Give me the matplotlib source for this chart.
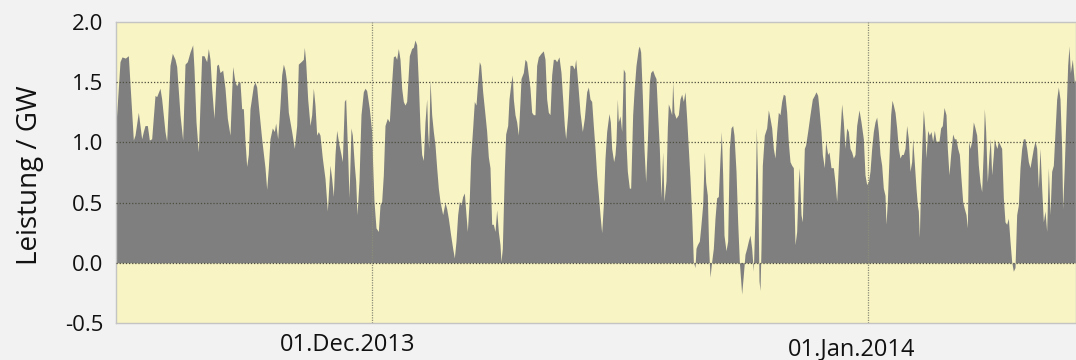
import matplotlib
matplotlib.use("Agg")
import matplotlib.pyplot as plt
import matplotlib.dates as mdates
from matplotlib.transforms import ScaledTranslation
import numpy as np
import pandas as pd

plt.rcParams['font.family'] = ['Open Sans', 'DejaVu Sans']

# Net power, hours counted from 15 Nov 2013 00:00
start = pd.Timestamp("2013-11-15 00:00")
hours = [
    0, 6, 9, 14, 18.5, 26, 28.5, 33.5, 36, 38.5, 41, 43.5, 47, 50, 53.5, 58.5, 61, 66, 68.5, 73.5,
    76, 81, 84.5, 88.5, 91, 96, 100, 103.5, 107, 111, 115, 117, 120, 123.5, 128.5, 132, 136, 138.5,
    141, 143.5, 147, 151, 153.5, 156, 160, 163.5, 167, 171, 175, 178.5, 181,
    183.5, 186, 188.5, 191, 193.5, 196, 198.5, 201, 206, 208.5, 211, 213.5, 218.5, 223.5, 226, 228.5,
    231, 234.5, 237.5, 239.5, 242.5, 246, 248.5, 251, 253.5, 256, 258.5, 263.5, 267.5, 271, 273.5,
    277.5, 281, 282.5, 284.5, 287.5, 291, 293.5, 296, 298.5, 301, 303.5, 306, 309.5, 313.5, 317, 321,
    323.5, 326, 328.5, 331, 334.5, 337.5, 339.5, 342.5, 344.5, 347.5, 349.5, 352.5, 354.5, 357.5,
    359.5, 361.5, 364.5, 367.5, 371,
    373.5, 376, 380, 383.5, 385, 387, 390, 393.5, 396, 398.5, 401, 403.5, 407, 410, 413.5, 416, 418.5,
    421, 423.5, 426, 428.5, 431, 433.5, 436, 440, 443.5, 446, 448.5, 451, 453.5, 456, 458.5, 461,
    463.5, 466, 467.5, 469, 471, 473.5, 476, 478.5, 481, 483.5, 486, 490, 493.5, 496, 498.5, 502, 505,
    507.5, 510, 512.5, 515, 517.5, 520, 522.5, 525, 527, 530, 532, 535, 537.5, 540, 542.5, 545, 547,
    550, 553.5, 556,
    558.5, 561, 563.5, 566, 568.5, 571, 573.5, 576, 577.5, 579.5, 582.5, 584.5, 587.5, 589.5, 592.5,
    594.5, 596, 598.5, 601, 603.5, 606, 607.5, 611, 613.5, 616, 618.5, 621, 623.5, 626, 628.5, 631,
    633.5, 637.5, 641, 643.5, 646, 648.5, 651, 653.5, 656, 658.5, 661, 664.5, 667.5, 670, 672.5,
    674.5, 677.5, 681, 684.5, 687.5, 689.5, 692.5, 696, 699.5, 702.5, 706, 708.5, 711, 713.5, 716,
    718.5, 721, 723.5, 726, 728.5, 731, 733.5, 736, 739.5, 741.5, 743.5, 746.5, 748.5,
    750, 752, 753.5, 756, 758.5, 761, 763.5, 765, 767, 770, 772, 775, 777, 780, 783.5, 785, 787,
    789.5, 792, 794.5, 797, 800, 802, 805, 807.5, 810, 812.5, 815, 817.5, 820, 822, 825, 827, 828.5,
    831, 833.5, 835, 837, 840, 843.5, 846, 848.5, 851, 853.5, 856, 858.5, 861, 863.5, 866, 868.5,
    870, 872, 875, 877, 880, 882.5, 884.5, 887, 889, 891, 893.5, 896, 898.5, 901, 903.5, 906, 908,
    910, 912, 915, 917.5, 920, 922.5, 925, 927, 930, 932.5, 935,
    938.5, 941, 943.5, 946, 948.5, 951, 953.5, 956, 958.5, 960.5, 962.5, 964.5, 966, 967.5, 969.5,
    972.5, 976, 978.5, 981, 983.5, 986, 988.5, 991, 993.5, 996, 998.5, 1001, 1003.5, 1006, 1008.5,
    1011, 1013.5, 1016, 1018.5, 1021, 1023.5, 1025, 1027.5, 1029.5, 1032.5, 1034.5, 1037.5, 1041,
    1044.5, 1047.5, 1050, 1052.5, 1054.5, 1057.5, 1059.5, 1062.5, 1064.5, 1067.5, 1069.5, 1072.5,
    1076, 1078.5, 1081, 1083.5, 1086, 1088.5, 1091, 1093.5, 1096, 1098.5, 1101, 1103.5, 1106,
    1108.5, 1111, 1114.5, 1117.5, 1121,
    1123.5, 1126, 1128.5, 1131, 1133.5, 1136, 1138.5, 1141, 1143.5, 1146, 1148.5, 1151, 1153.5,
    1155, 1157, 1160, 1162, 1164, 1166, 1168.5, 1171, 1173.5, 1176, 1178.5, 1181, 1183.5, 1186,
    1188.5, 1191, 1193.5, 1195, 1197, 1200, 1202, 1203.5, 1205, 1207, 1209, 1211, 1213.5, 1215,
    1217.5, 1220, 1222.5, 1225, 1227.5, 1230, 1232, 1234.5, 1237, 1239.5, 1242, 1245, 1247, 1249.5,
    1252, 1255, 1257.5, 1260, 1262.5, 1265, 1267.5, 1270, 1272.5, 1275, 1277, 1279,
    1281, 1283.5, 1286, 1288.5, 1291, 1293.5, 1296, 1298.5, 1301, 1302.5, 1304.5, 1307, 1309.5,
    1311.5, 1313.5, 1316, 1317.5, 1319.5, 1321.5, 1323.5, 1326, 1328.5, 1331, 1333.5, 1336, 1338.5,
    1341, 1343.5, 1346, 1348.5, 1351, 1353.5, 1356, 1358.5, 1361, 1363.5, 1366, 1368.5, 1371,
    1373.5, 1376, 1378.5, 1381, 1383.5, 1386, 1388.5, 1391, 1393.5, 1396, 1398.5, 1401, 1403.5,
    1406, 1408.5, 1411, 1413.5, 1416, 1418.5, 1420, 1422.5, 1425, 1427.5, 1429.5, 1431.5, 1434.5,
    1437.5, 1440,
]
power_gw = [
    1.15, 1.67, 1.71, 1.70, 1.72, 1.02, 1.06, 1.25, 1.14, 1.03, 1.09, 1.14, 1.14, 1.02, 1.03, 1.39, 1.38, 1.45, 1.36, 1.09,
    1.01, 1.64, 1.74, 1.69, 1.63, 1.23, 1.02, 1.65, 1.67, 1.75, 1.81, 1.61, 1.17, 0.92, 1.72, 1.72, 1.67, 1.78,
    1.69, 1.45, 1.20, 1.64, 1.65, 1.58, 1.60, 1.45, 1.20, 1.06, 1.63, 1.50, 1.47,
    1.50, 1.50, 1.28, 1.28, 1.01, 0.80, 0.90, 1.28, 1.47, 1.50, 1.46, 1.31, 1.03, 0.79, 0.61, 0.79,
    1.03, 1.12, 1.09, 1.16, 1.03, 1.31, 1.56, 1.65, 1.60, 1.50, 1.25, 1.09, 0.95, 1.14, 1.65,
    1.67, 1.69, 1.79, 1.67, 1.36, 1.14, 1.23, 1.45, 1.31, 1.06, 1.09, 1.06, 0.87, 0.70, 0.43, 0.81,
    0.70, 0.55, 0.90, 1.10, 0.98, 0.90, 0.84, 1.34, 1.36, 0.90, 0.54, 1.12, 1.06, 0.81,
    0.68, 0.40, 0.68, 1.23, 1.42,
    1.45, 1.43, 1.28, 1.09, 0.81, 0.51, 0.29, 0.26, 0.48, 0.51, 0.73, 1.14, 1.20, 1.17, 1.50, 1.71, 1.72,
    1.69, 1.78, 1.69, 1.45, 1.34, 1.31, 1.34, 1.72, 1.78, 1.79, 1.85, 1.81, 1.50, 1.12, 0.90, 0.85,
    1.17, 1.36, 1.09, 0.95, 1.52, 1.23, 1.09, 0.98, 0.79, 0.62, 0.51, 0.40, 0.50, 0.45, 0.37, 0.23, 0.12,
    0.04, 0.18, 0.40, 0.51, 0.48, 0.55, 0.58, 0.40, 0.26, 0.54, 0.87, 1.12, 1.34, 1.31, 1.50, 1.67, 1.64,
    1.42, 1.23, 1.09,
    0.88, 0.79, 0.32, 0.32, 0.26, 0.44, 0.26, 0.15, 0.01, 0.12, 0.76, 1.07, 1.14, 1.36, 1.50,
    1.56, 1.36, 1.23, 1.17, 1.06, 1.34, 1.53, 1.58, 1.69, 1.67, 1.56, 1.45, 1.25, 1.23, 1.23, 1.64,
    1.71, 1.74, 1.76, 1.69, 1.36, 1.25, 1.23, 1.56, 1.69, 1.69, 1.67, 1.71, 1.58, 1.36, 1.14,
    1.03, 1.23, 1.64, 1.64, 1.61, 1.69, 1.50, 1.25, 1.09, 1.20, 1.42, 1.46, 1.36, 1.34, 1.14,
    0.95, 0.73, 0.57, 0.40, 0.25, 0.48, 0.87, 1.09, 1.24, 1.17, 0.95, 0.84, 0.90,
    1.01, 1.36, 1.17, 1.22, 1.09, 1.61, 1.58, 1.00, 0.76, 0.62, 0.62, 1.23, 1.42, 1.64, 1.78, 1.80, 1.75,
    1.39, 0.95, 0.67, 1.00, 1.50, 1.58, 1.60, 1.56, 1.53, 1.23, 0.95, 0.54, 0.92, 0.51, 0.68, 1.12, 1.32,
    1.28, 1.23, 1.50, 1.25, 1.20, 1.23, 1.36, 1.40, 1.34, 1.42, 1.20, 0.95, 0.70, 0.40, 0.01, -0.04,
    0.12, 0.15, 0.18, 0.29, 0.48, 0.92, 0.67, 0.56, 0.12, -0.12, 0.01, 0.12, 0.37, 0.54, 0.55, 0.87, 1.09,
    0.73, 0.23, 0.10, 0.18, 0.95, 1.12, 1.14, 1.06, 0.76, 0.34, 0.01,
    -0.26, -0.10, 0.07, 0.12, 0.18, 0.23, 0.12, -0.07, 0.40, 1.12, 0.67, -0.15, -0.23, 0.12, 0.81,
    1.06, 1.12, 1.27, 1.20, 1.12, 0.95, 0.87, 1.09, 1.25, 1.23, 1.34, 1.40, 1.39, 1.25, 1.00,
    0.84, 0.81, 0.79, 0.15, 0.26, 0.67, 0.79, 0.40, 0.34, 0.95, 0.98, 1.09, 1.23,
    1.36, 1.39, 1.42, 1.39, 1.28, 1.09, 0.90, 0.79, 1.01, 0.90, 0.92, 0.79,
    0.79, 0.67, 0.51, 0.81, 1.09, 1.32, 1.17, 0.95, 1.12, 1.09, 0.95, 0.92, 0.87,
    0.90, 1.14, 1.27, 1.17, 1.03,
    0.73, 0.65, 0.67, 0.76, 0.95, 1.09, 1.17, 1.21, 1.09, 0.90, 0.81, 0.62, 0.56,
    0.32, 0.51, 0.95, 1.23, 1.35, 1.31, 1.25, 1.12, 0.95, 0.87, 0.90, 0.90, 0.95, 1.14,
    1.03, 0.76, 0.84, 1.03, 0.87, 0.62, 0.48, 0.43, 0.21, 0.68, 1.01, 1.27, 1.09, 0.87,
    1.10, 1.06, 1.09, 1.01, 1.10, 1.01, 1.01, 1.01, 1.12, 1.14, 1.29, 1.23, 0.95, 0.73,
    0.90, 1.07, 1.03, 1.03, 0.95, 0.90, 0.70, 0.51, 0.45, 0.40, 0.29, 1.01,
    0.95, 1.01, 1.17, 1.12, 1.06, 0.81, 0.67, 0.59, 0.95, 1.28, 1.09, 0.67, 0.90,
    1.03, 0.73, 0.90, 1.03, 0.98, 0.95, 1.01, 0.98, 0.95, 0.54, 0.34, 0.32, 0.37,
    0.18, 0.01, -0.07, -0.04, 0.40, 0.48, 0.79, 0.95, 1.03, 1.03, 0.95, 0.84, 0.79,
    0.87, 0.95, 1.01, 0.95, 0.62, 0.95, 0.62, 0.34, 0.43, 0.26, 0.79, 0.40, 0.76,
    0.81, 1.09, 1.36, 1.46, 1.36, 0.95, 0.45, 0.81, 1.23, 1.64, 1.80, 1.58, 1.69,
    1.50, 1.53,
]

yticks = [-0.5, 0.0, 0.5, 1.0, 1.5, 2.0]
xtick_dates = ["2013-12-01", "2014-01-01"]
xtick_labels = ["01.Dec.2013", "01.Jan.2014"]

times = start + pd.to_timedelta(np.asarray(hours), unit="h")
values = np.asarray(power_gw)

fig = plt.figure(figsize=(10.76, 3.6), dpi=100, facecolor="#f2f2f2")
ax = fig.add_axes([116 / 1076, 37 / 360, 960 / 1076, 301 / 360])
ax.set_facecolor("#f8f4c3")

ax.fill_between(times, values, 0, color="#7f7f7f", linewidth=0, zorder=1)

ax.set_xlim(start, start + pd.Timedelta(days=60))
ax.set_ylim(-0.5, 2.0)
ax.set_yticks(yticks)
ax.set_yticklabels([f"{t:.1f}" for t in yticks])
ax.set_xticks(mdates.date2num(pd.to_datetime(xtick_dates)))
ax.set_xticklabels(xtick_labels)

ax.tick_params(axis="both", length=0, colors="#111111")
ax.tick_params(axis="y", pad=9, labelsize=16)
ax.tick_params(axis="x", pad=7, labelsize=17)
ax.set_ylabel("Leistung / GW", fontsize=20, color="#111111")
ax.yaxis.set_label_coords(-0.075, 0.49)

# dotted grid drawn over the filled area
ax.set_axisbelow(False)
for y in [0.0, 0.5, 1.0, 1.5]:
    ax.axhline(y, color="#4d4d40", linestyle=(0, (1, 1.5)), linewidth=0.9, zorder=3)
for d in xtick_dates:
    ax.axvline(pd.Timestamp(d), color="#8c8c7a", linestyle=(0, (1, 1)), linewidth=0.9, zorder=3)

for s in ax.spines.values():
    s.set_color("#c4c4c4")
    s.set_linewidth(1.0)

# the date labels sit slightly left of their grid lines
shifts = [(-0.24, 0.0), (-0.16, -0.05)]
for lab, (dx, dy) in zip(ax.get_xticklabels(), shifts):
    lab.set_transform(lab.get_transform() + ScaledTranslation(dx, dy, fig.dpi_scale_trans))

fig.savefig("out.png", dpi=100, facecolor=fig.get_facecolor())
